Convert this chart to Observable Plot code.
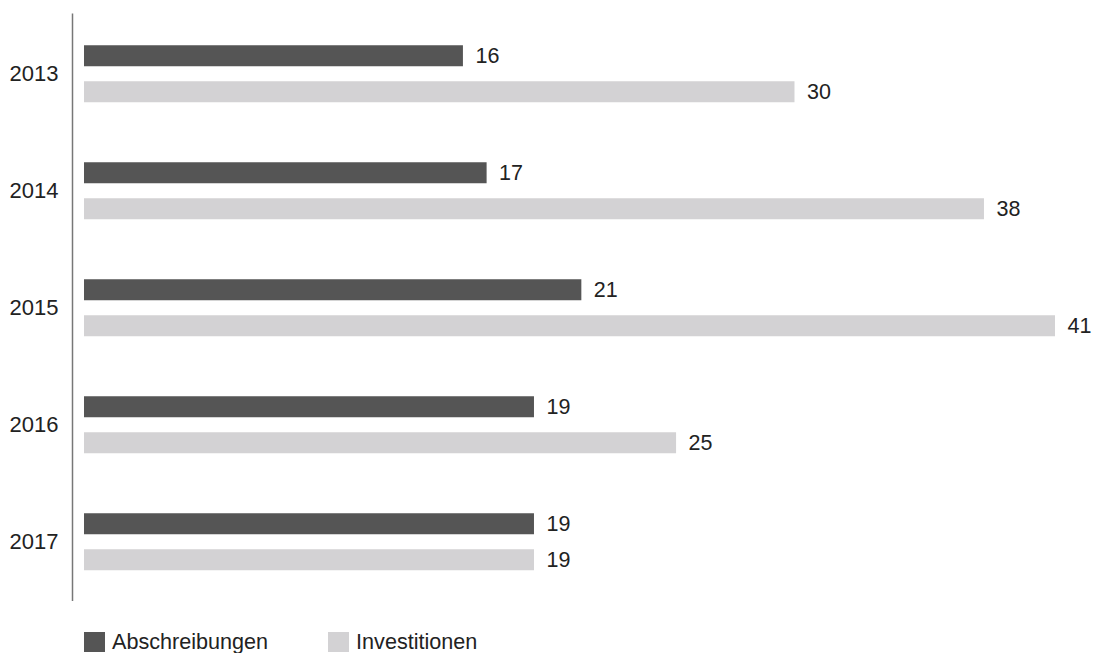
<!DOCTYPE html>
<html>
<head>
<meta charset="utf-8">
<script src="https://cdn.jsdelivr.net/npm/d3@7"></script>
<script src="https://cdn.jsdelivr.net/npm/@observablehq/plot@0.6"></script>
<style>
  html, body { margin: 0; padding: 0; background: #fff; }
  #wrap { position: relative; width: 1097px; height: 653px; font-family: "Liberation Sans", Arial, Helvetica, sans-serif; }
  #legend { position: absolute; left: 84px; top: 631px; display: flex; align-items: center; font-size: 21.6px; color: #222; line-height: 21px; }
  .item { display: flex; align-items: center; }
  .sw { width: 21px; height: 20px; margin-right: 7px; }
</style>
</head>
<body>
<div id="wrap"></div>
<script>
const years = ["2013", "2014", "2015", "2016", "2017"];
const abschreibungen = [16, 17, 21, 19, 19];
const investitionen = [30, 38, 41, 25, 19];
const seriesNames = ["Abschreibungen", "Investitionen"];
const seriesColors = ["#555555", "#d3d2d4"];

const dataA = years.map((y, i) => ({year: y, value: abschreibungen[i]}));
const dataI = years.map((y, i) => ({year: y, value: investitionen[i]}));

const font = "Liberation Sans, Arial, Helvetica, sans-serif";

const chart = Plot.plot({
  width: 1097,
  height: 615,
  marginLeft: 84,
  marginRight: 42,
  marginTop: 13.5,
  marginBottom: 14,
  style: {fontFamily: font, fontSize: "21px", color: "#222", background: "#fff"},
  x: {domain: [0, 41], axis: null},
  y: {domain: years, padding: 0, label: null, axis: null},
  marks: [
    Plot.ruleX([0], {dx: -12, stroke: "#777", strokeWidth: 1.5}),
    Plot.barX(dataA, {x: "value", y: "year", fill: seriesColors[0], insetTop: 30.25, insetBottom: 65.75}),
    Plot.barX(dataI, {x: "value", y: "year", fill: seriesColors[1], insetTop: 66.25, insetBottom: 29.75}),
    Plot.text(dataA, {x: "value", y: "year", text: d => String(d.value), dy: -17.5, dx: 12, textAnchor: "start", fill: "#222", fontSize: 21.5}),
    Plot.text(dataI, {x: "value", y: "year", text: d => String(d.value), dy: 18, dx: 12, textAnchor: "start", fill: "#222", fontSize: 21.5}),
    Plot.axisY({tickSize: 0, tickPadding: 26, fontSize: 22, fill: "#222", label: null})
  ]
});

const wrap = document.getElementById("wrap");
wrap.appendChild(chart);

const legend = document.createElement("div");
legend.id = "legend";
seriesNames.forEach((name, i) => {
  const item = document.createElement("div");
  item.className = "item";
  if (i > 0) item.style.marginLeft = "60px";
  const sw = document.createElement("span");
  sw.className = "sw";
  sw.style.background = seriesColors[i];
  const t = document.createElement("span");
  t.textContent = name;
  item.appendChild(sw);
  item.appendChild(t);
  legend.appendChild(item);
});
wrap.appendChild(legend);
</script>
</body>
</html>
